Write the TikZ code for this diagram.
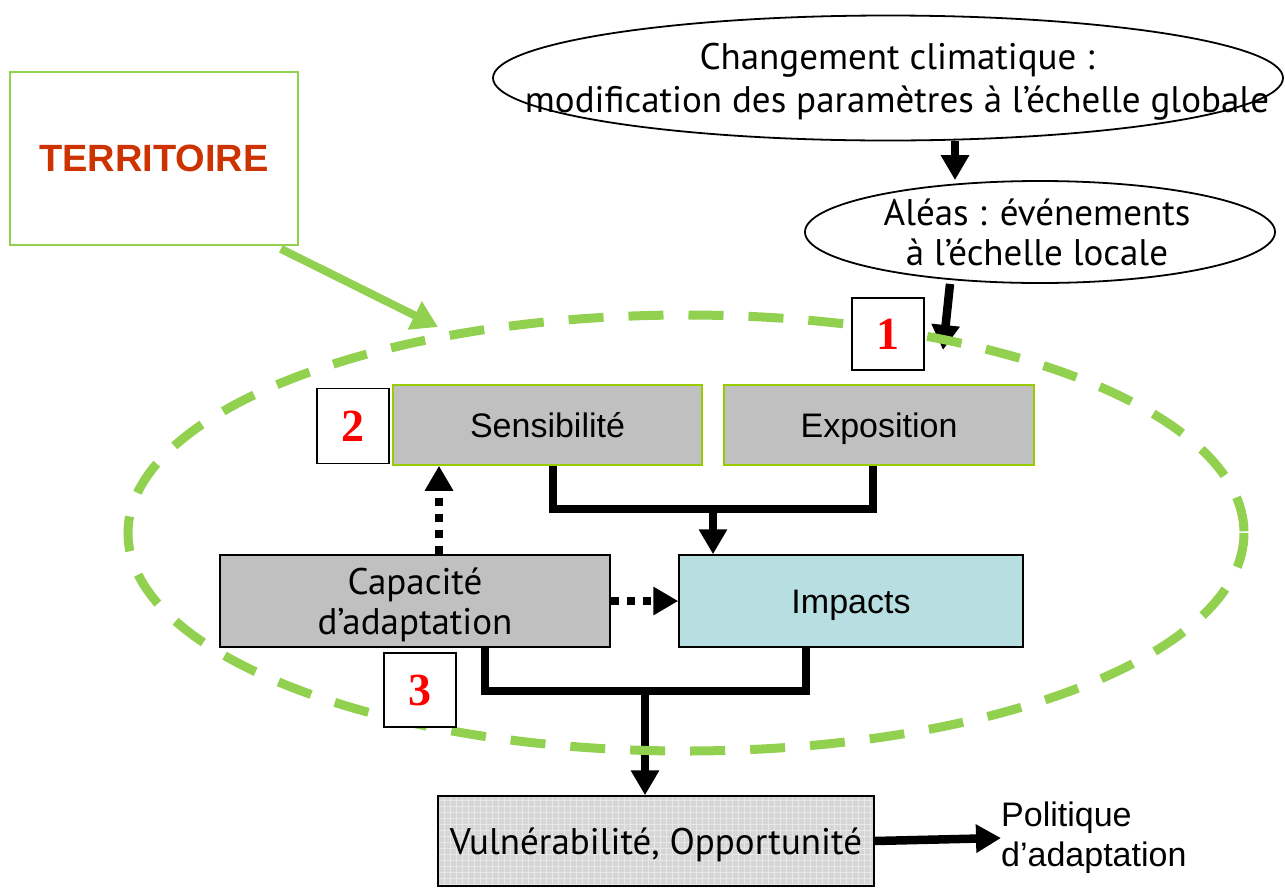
\documentclass[tikz,border=0pt]{standalone}
\usepackage{fontspec}
\setmainfont{Liberation Sans}
\newfontfamily\hum{PT Sans}
\newfontfamily\tnr{Liberation Serif}
\usetikzlibrary{arrows.meta,shapes.geometric}
\definecolor{lgreen}{HTML}{92D050}
\definecolor{ygreen}{HTML}{99CC00}
\definecolor{boxgray}{HTML}{C0C0C0}
\definecolor{impblue}{HTML}{B7DEE0}
\definecolor{terr}{HTML}{CC3300}
\definecolor{vulgray}{HTML}{D6D6D6}
\begin{document}
\begin{tikzpicture}[x=1pt,y=-1pt,
  every node/.style={inner sep=0pt},
  gbox/.style={draw=ygreen, line width=1.5pt, fill=boxgray, font=\fontsize{34}{40}\selectfont, text height=24pt, text depth=0pt},
  bbox/.style={draw=black, line width=1.5pt},
  humf/.style={font=\hum\fontsize{37}{40}\selectfont, align=center},
  numbox/.style={draw=black, line width=1.5pt, fill=white, minimum width=72pt, minimum height=74pt, font=\tnr\bfseries\fontsize{46}{46}\selectfont, text=red},
  ell/.style={ellipse, draw=black, line width=1.8pt, fill=white},
  conn/.style={line width=8.5pt},
  tipA/.style={-{Triangle[length=25pt,width=27pt]}},
  dotconn/.style={line width=8.5pt, dash pattern=on 8pt off 8pt},
  greenarrow/.style={draw=lgreen, line width=8pt, -{Triangle[length=26pt,width=30pt]}},
  greendash/.style={draw=lgreen, line width=9pt, dash pattern=on 35pt off 25pt},
]
\useasboundingbox (0,0) rectangle (1285,887);

% top ellipses
\node[ell, minimum width=790pt, minimum height=125pt] (cc) at (888,78) {};
\node[humf, font=\hum\fontsize{37}{43}\selectfont] (cct) at (897,82)
  {Changement climatique :\\modification des paramètres à l’échelle globale};
\node[ell, minimum width=470pt, minimum height=102pt] (al) at (1040,232) {};
\node[humf] (alt) at (1037,232)
  {Aléas : événements\\à l’échelle locale};

% territoire
\node[draw=lgreen, line width=1.8pt, minimum width=288pt, minimum height=173pt,
  text=terr, font=\bfseries\fontsize{38}{40}\selectfont] (terr) at (154,158.5) {TERRITOIRE};

% boxes
\node[gbox, minimum width=309pt, minimum height=80pt] (sens) at (547.5,425) {Sensibilité};
\node[gbox, minimum width=310pt, minimum height=80pt] (expo) at (879,425) {Exposition};
\node[bbox, fill=boxgray, minimum width=390pt, minimum height=92pt] (cap) at (415,601) {};
\node[humf] (capt) at (415,605) {Capacité\\d’adaptation};
\node[bbox, fill=impblue, minimum width=344pt, minimum height=92pt, font=\fontsize{34}{40}\selectfont, text height=24pt, text depth=0pt] (imp) at (851,601) {Impacts};
\node[bbox, fill=vulgray, minimum width=436pt, minimum height=90pt, humf, text height=26pt, text depth=0pt,
  path picture={\draw[white, opacity=0.45, line width=0.8pt, step=6pt]
    (path picture bounding box.south west) grid (path picture bounding box.north east);}]
  (vul) at (656,841) {Vulnérabilité, Opportunité};
\node[anchor=west, align=left, font=\fontsize{34}{40}\selectfont] (pol) at (1001,838)
  {Politique\\d’adaptation};

% junction coordinates
\coordinate (j1) at (713,509);
\coordinate (j2) at (645,691);
\coordinate (t1) at (943,350);
\coordinate (g1) at (438,327);

% connectors
\draw[conn, tipA] ([xshift=67pt]cc.south) -- ([xshift=-85pt]al.north);
\draw[conn, tipA] ([xshift=-90pt]al.south) -- (t1);
\draw[greenarrow] ([xshift=-18pt,yshift=-3pt]terr.south east) -- (g1);
\draw[conn] ([xshift=5.5pt]sens.south) |- (j1) -| ([xshift=-6pt]expo.south);
\draw[conn, tipA] (j1) -- (imp.north -| j1);
\draw[conn] ([xshift=70pt]cap.south) |- (j2) -| ([xshift=-45pt]imp.south);
\draw[conn, tipA] (j2) -- (vul.north -| j2);
\draw[dotconn, tipA] ([xshift=24pt]cap.north) -- ([xshift=24pt]cap.north |- sens.south);
\draw[dotconn, tipA] (cap.east) -- (imp.west);
\draw[conn, tipA] (vul.east) -- (pol.west);

% dashed territory ellipse
\draw[greendash] (686,533) ellipse [x radius=558, y radius=218];

% number boxes
\node[numbox, minimum height=72pt] (n1) at (888,334) {1};
\node[numbox, minimum height=75pt] (n2) at (353,426) {2};
\node[numbox] (n3) at (420,690) {3};
\end{tikzpicture}
\end{document}
